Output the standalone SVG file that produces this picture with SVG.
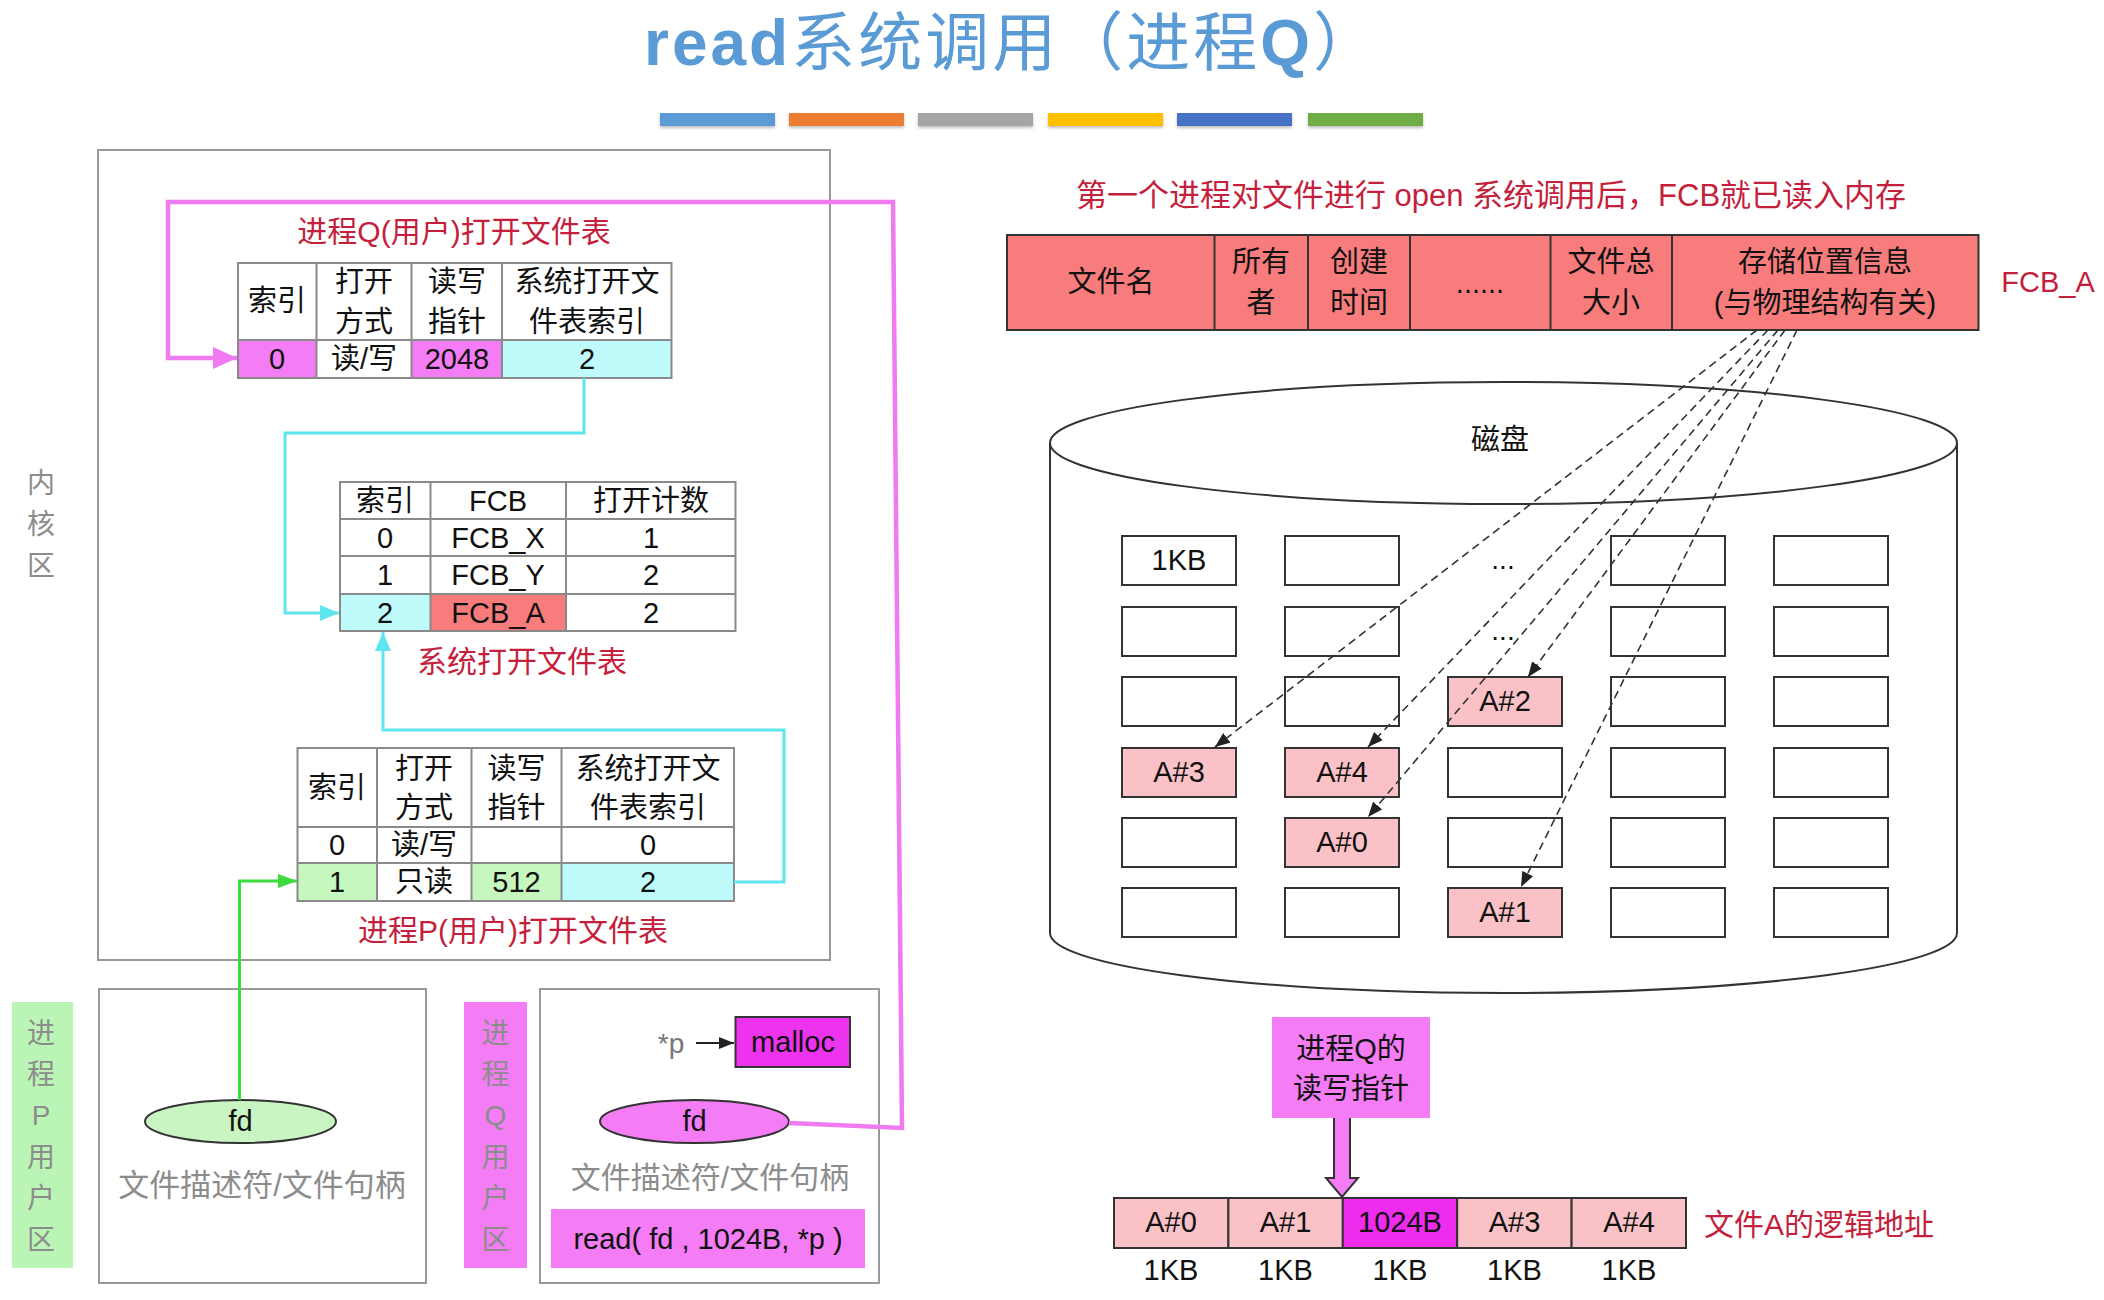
<svg xmlns="http://www.w3.org/2000/svg" width="2104" height="1300" viewBox="0 0 2104 1300">
<defs>
<style>
text{font-family:"Liberation Sans","Noto Sans CJK SC",sans-serif;}
.c{text-anchor:middle;dominant-baseline:central;font-size:29px;fill:#111}
.red{text-anchor:middle;dominant-baseline:central;font-size:29px;fill:#c41f3c}
.gray{text-anchor:middle;dominant-baseline:central;font-size:28px;fill:#8c8c8c}
.tb{fill:none;stroke:#8a8a8a;stroke-width:2}
.box{fill:#fff;stroke:#999;stroke-width:2}
.blk{fill:#fff;stroke:#333;stroke-width:2}
.pk{fill:#fac2c7;stroke:#333;stroke-width:2}
.mag{fill:#f47cf4}
.cy{fill:#bffbfb}
.gr{fill:#c5f7bf}
.dash{fill:none;stroke:#333;stroke-width:1.6;stroke-dasharray:8 5}
.bar{stroke:none}
</style>
<marker id="aPink" markerUnits="userSpaceOnUse" markerWidth="26" markerHeight="24" refX="24" refY="12" orient="auto"><path d="M0,1 L24,12 L0,23 Z" fill="#f07af0"/></marker>
<marker id="aCyan" markerUnits="userSpaceOnUse" markerWidth="20" markerHeight="16" refX="19" refY="8" orient="auto"><path d="M0,0 L19,8 L0,16 Z" fill="#5ee6ee"/></marker>
<marker id="aGreen" markerUnits="userSpaceOnUse" markerWidth="20" markerHeight="16" refX="19" refY="8" orient="auto"><path d="M0,1 L19,8 L0,15 Z" fill="#3ddc3d"/></marker>
<marker id="aBlk" markerUnits="userSpaceOnUse" markerWidth="16" markerHeight="12" refX="15" refY="6" orient="auto"><path d="M0,0 L15,6 L0,12 Z" fill="#222"/></marker>
<filter id="sh" x="-10%" y="-30%" width="120%" height="180%"><feDropShadow dx="0" dy="2" stdDeviation="1.5" flood-color="#000" flood-opacity="0.25"/></filter>
</defs>
<rect width="2104" height="1300" fill="#fff"/>

<g id="title">
<text x="644" y="65" font-size="64" letter-spacing="3" fill="#5b9bd5"><tspan font-weight="bold">read</tspan>系统调用（进程<tspan font-weight="bold">Q</tspan>）</text>
<g filter="url(#sh)">
<rect class="bar" x="660" y="113" width="115" height="13" fill="#5b9bd5"/>
<rect class="bar" x="789" y="113" width="115" height="13" fill="#ed7d31"/>
<rect class="bar" x="918" y="113" width="115" height="13" fill="#a5a5a5"/>
<rect class="bar" x="1048" y="113" width="115" height="13" fill="#ffc000"/>
<rect class="bar" x="1177" y="113" width="115" height="13" fill="#4472c4"/>
<rect class="bar" x="1308" y="113" width="115" height="13" fill="#70ad47"/>
</g>
</g>

<g id="kernel">
<rect class="box" x="98" y="150" width="732" height="810"/>
<text class="gray" x="41" y="483">内</text>
<text class="gray" x="41" y="524">核</text>
<text class="gray" x="41" y="566">区</text>
</g>

<g id="tableQ">
<text class="red" x="454" y="231" style="font-size:30px">进程Q(用户)打开文件表</text>
<rect x="238" y="263" width="433.5" height="115" fill="#fff"/>
<rect class="mag" x="238" y="340" width="78.5" height="38"/>
<rect class="mag" x="411.5" y="340" width="90.5" height="38"/>
<rect class="cy" x="502" y="340" width="169.5" height="38"/>
<path class="tb" d="M238,263 H671.5 V378 H238 Z M238,340 H671.5 M316.5,263 V378 M411.5,263 V378 M502,263 V378"/>
<text class="c" x="277" y="301">索引</text>
<text class="c" x="364" y="282">打开</text><text class="c" x="364" y="322">方式</text>
<text class="c" x="457" y="282">读写</text><text class="c" x="457" y="322">指针</text>
<text class="c" x="587" y="282">系统打开文</text><text class="c" x="587" y="322">件表索引</text>
<text class="c" x="277" y="359">0</text>
<text class="c" x="364" y="359">读/写</text>
<text class="c" x="457" y="359">2048</text>
<text class="c" x="587" y="359">2</text>
</g>

<g id="sysTable">
<rect x="340" y="482" width="395.5" height="149" fill="#fff"/>
<rect class="cy" x="340" y="594" width="90.5" height="37"/>
<rect x="430.5" y="594" width="135.5" height="37" fill="#f87c7c"/>
<path class="tb" d="M340,482 H735.5 V631 H340 Z M340,519 H735.5 M340,556 H735.5 M340,594 H735.5 M430.5,482 V631 M566,482 V631"/>
<text class="c" x="385" y="501">索引</text><text class="c" x="498" y="501">FCB</text><text class="c" x="651" y="501">打开计数</text>
<text class="c" x="385" y="538">0</text><text class="c" x="498" y="538">FCB_X</text><text class="c" x="651" y="538">1</text>
<text class="c" x="385" y="575">1</text><text class="c" x="498" y="575">FCB_Y</text><text class="c" x="651" y="575">2</text>
<text class="c" x="385" y="613">2</text><text class="c" x="498" y="613">FCB_A</text><text class="c" x="651" y="613">2</text>
<text class="red" x="522" y="661" style="font-size:30px">系统打开文件表</text>
</g>

<g id="tableP">
<rect x="297.5" y="748" width="436.5" height="153" fill="#fff"/>
<rect class="gr" x="297.5" y="863" width="79.5" height="38"/>
<rect class="gr" x="471.5" y="863" width="90" height="38"/>
<rect class="cy" x="561.5" y="863" width="172.5" height="38"/>
<path class="tb" d="M297.5,748 H734 V901 H297.5 Z M297.5,827 H734 M297.5,863 H734 M377,748 V901 M471.5,748 V901 M561.5,748 V901"/>
<text class="c" x="337" y="788">索引</text>
<text class="c" x="424" y="769">打开</text><text class="c" x="424" y="808">方式</text>
<text class="c" x="516.5" y="769">读写</text><text class="c" x="516.5" y="808">指针</text>
<text class="c" x="648" y="769">系统打开文</text><text class="c" x="648" y="808">件表索引</text>
<text class="c" x="337" y="845">0</text><text class="c" x="424" y="845">读/写</text><text class="c" x="648" y="845">0</text>
<text class="c" x="337" y="882">1</text><text class="c" x="424" y="882">只读</text><text class="c" x="516.5" y="882">512</text><text class="c" x="648" y="882">2</text>
<text class="red" x="513" y="930" style="font-size:30px">进程P(用户)打开文件表</text>
</g>

<g id="userP">
<rect x="12" y="1002" width="61" height="266" fill="#bbf5b5"/>
<text class="gray" x="41" y="1033">进</text>
<text class="gray" x="41" y="1074">程</text>
<text class="gray" x="41" y="1115">P</text>
<text class="gray" x="41" y="1157">用</text>
<text class="gray" x="41" y="1198">户</text>
<text class="gray" x="41" y="1240">区</text>
<rect class="box" x="99" y="989" width="327" height="294"/>
<ellipse cx="240.5" cy="1121.5" rx="95.5" ry="21.5" fill="#c8f5c2" stroke="#333" stroke-width="2"/>
<text class="c" x="240.5" y="1121">fd</text>
<text class="gray" x="262" y="1185" style="font-size:31px">文件描述符/文件句柄</text>
</g>

<g id="userQ">
<rect x="464" y="1002" width="63" height="266" fill="#f47cf4"/>
<text class="gray" x="495.5" y="1033">进</text>
<text class="gray" x="495.5" y="1074">程</text>
<text class="gray" x="495.5" y="1115">Q</text>
<text class="gray" x="495.5" y="1157">用</text>
<text class="gray" x="495.5" y="1198">户</text>
<text class="gray" x="495.5" y="1240">区</text>
<rect class="box" x="540" y="989" width="339" height="294"/>
<text class="gray" x="671" y="1043" style="fill:#777">*p</text>
<rect x="735.5" y="1017" width="114.5" height="50" fill="#ee33ee" stroke="#333" stroke-width="2"/>
<text class="c" x="793" y="1042">malloc</text>
<ellipse cx="694.5" cy="1121.5" rx="94.5" ry="21.5" fill="#f47cf4" stroke="#333" stroke-width="2"/>
<text class="c" x="694.5" y="1121">fd</text>
<text class="gray" x="710" y="1177" style="font-size:30px">文件描述符/文件句柄</text>
<rect x="551" y="1209" width="314" height="59" fill="#f47cf4"/>
<text class="c" x="708" y="1239">read( fd , 1024B, *p )</text>
</g>

<g id="fcbA">
<text class="red" x="1491" y="195" style="font-size:31px">第一个进程对文件进行 open 系统调用后，FCB就已读入内存</text>
<rect x="1007" y="235" width="971.5" height="95" fill="#f87c7c" stroke="#333" stroke-width="2"/>
<path d="M1214.5,235 V330 M1308,235 V330 M1410,235 V330 M1550.5,235 V330 M1672,235 V330" stroke="#333" stroke-width="2"/>
<text class="c" x="1111" y="282">文件名</text>
<text class="c" x="1261" y="262">所有</text><text class="c" x="1261" y="303">者</text>
<text class="c" x="1359" y="262">创建</text><text class="c" x="1359" y="303">时间</text>
<text x="1480" y="293" text-anchor="middle" font-size="29" fill="#111">......</text>
<text class="c" x="1611" y="262">文件总</text><text class="c" x="1611" y="303">大小</text>
<text class="c" x="1825" y="262">存储位置信息</text><text class="c" x="1825" y="303">(与物理结构有关)</text>
<text class="red" x="2048" y="282">FCB_A</text>
</g>

<g id="disk">
<path d="M1050,443 V933 A453.5,60 0 0 0 1957,933 V443" fill="#fff" stroke="#333" stroke-width="2"/>
<ellipse cx="1503.5" cy="443" rx="453.5" ry="61" fill="#fff" stroke="#333" stroke-width="2"/>
<text class="c" x="1500" y="440">磁盘</text>
<rect class="blk" x="1122" y="536" width="114" height="49"/><text class="c" x="1179" y="560">1KB</text>
<rect class="blk" x="1285" y="536" width="114" height="49"/>
<text x="1503" y="569" text-anchor="middle" font-size="28" fill="#111">...</text>
<rect class="blk" x="1611" y="536" width="114" height="49"/>
<rect class="blk" x="1774" y="536" width="114" height="49"/>
<rect class="blk" x="1122" y="607" width="114" height="49"/>
<rect class="blk" x="1285" y="607" width="114" height="49"/>
<text x="1503" y="640" text-anchor="middle" font-size="28" fill="#111">...</text>
<rect class="blk" x="1611" y="607" width="114" height="49"/>
<rect class="blk" x="1774" y="607" width="114" height="49"/>
<rect class="blk" x="1122" y="677" width="114" height="49"/>
<rect class="blk" x="1285" y="677" width="114" height="49"/>
<rect class="pk" x="1448" y="677" width="114" height="49"/><text class="c" x="1505" y="701">A#2</text>
<rect class="blk" x="1611" y="677" width="114" height="49"/>
<rect class="blk" x="1774" y="677" width="114" height="49"/>
<rect class="pk" x="1122" y="748" width="114" height="49"/><text class="c" x="1179" y="772">A#3</text>
<rect class="pk" x="1285" y="748" width="114" height="49"/><text class="c" x="1342" y="772">A#4</text>
<rect class="blk" x="1448" y="748" width="114" height="49"/>
<rect class="blk" x="1611" y="748" width="114" height="49"/>
<rect class="blk" x="1774" y="748" width="114" height="49"/>
<rect class="blk" x="1122" y="818" width="114" height="49"/>
<rect class="pk" x="1285" y="818" width="114" height="49"/><text class="c" x="1342" y="842">A#0</text>
<rect class="blk" x="1448" y="818" width="114" height="49"/>
<rect class="blk" x="1611" y="818" width="114" height="49"/>
<rect class="blk" x="1774" y="818" width="114" height="49"/>
<rect class="blk" x="1122" y="888" width="114" height="49"/>
<rect class="blk" x="1285" y="888" width="114" height="49"/>
<rect class="pk" x="1448" y="888" width="114" height="49"/><text class="c" x="1505" y="912">A#1</text>
<rect class="blk" x="1611" y="888" width="114" height="49"/>
<rect class="blk" x="1774" y="888" width="114" height="49"/>
</g>

<g id="rwPointer">
<rect x="1272" y="1017" width="158" height="101" fill="#f47cf4"/>
<text class="c" x="1351" y="1049">进程Q的</text>
<text class="c" x="1351" y="1089">读写指针</text>
</g>

<g id="logical">
<rect class="pk" x="1114" y="1198" width="114.4" height="50"/>
<rect class="pk" x="1228.4" y="1198" width="114.4" height="50"/>
<rect x="1342.8" y="1198" width="114.4" height="50" fill="#ee2cee" stroke="#333" stroke-width="2"/>
<rect class="pk" x="1457.2" y="1198" width="114.4" height="50"/>
<rect class="pk" x="1571.6" y="1198" width="114.4" height="50"/>
<text class="c" x="1171" y="1222">A#0</text>
<text class="c" x="1285.5" y="1222">A#1</text>
<text class="c" x="1400" y="1222">1024B</text>
<text class="c" x="1514.5" y="1222">A#3</text>
<text class="c" x="1629" y="1222">A#4</text>
<text class="c" x="1171" y="1270">1KB</text>
<text class="c" x="1285.5" y="1270">1KB</text>
<text class="c" x="1400" y="1270">1KB</text>
<text class="c" x="1514.5" y="1270">1KB</text>
<text class="c" x="1629" y="1270">1KB</text>
<text class="red" x="1819" y="1224" style="font-size:30px">文件A的逻辑地址</text>
</g>

<g id="connectors">
<path d="M789,1123 L902,1128 L893,202 L168,202 L168,358 L237,358" fill="none" stroke="#f07af0" stroke-width="4.5" marker-end="url(#aPink)"/>
<path d="M584,378 V433 H285 V613 H339" fill="none" stroke="#5ee6ee" stroke-width="3" marker-end="url(#aCyan)"/>
<path d="M734,882 H784 V730 H383 V632" fill="none" stroke="#5ee6ee" stroke-width="3" marker-end="url(#aCyan)"/>
<path d="M239.5,1100 V881 H297" fill="none" stroke="#3ddc3d" stroke-width="3" marker-end="url(#aGreen)"/>
<path d="M696,1043 H734" fill="none" stroke="#222" stroke-width="2" marker-end="url(#aBlk)"/>
<path class="dash" d="M1757,330 L1215,747" marker-end="url(#aBlk)"/>
<path class="dash" d="M1768,330 L1368,747" marker-end="url(#aBlk)"/>
<path class="dash" d="M1778,330 L1368,817" marker-end="url(#aBlk)"/>
<path class="dash" d="M1785,330 L1528,677" marker-end="url(#aBlk)"/>
<path class="dash" d="M1797,330 L1521,887" marker-end="url(#aBlk)"/>
<path d="M1334,1118 V1178 H1326 L1342,1197 L1358,1178 H1350 V1118" fill="#f47cf4" stroke="#333" stroke-width="2"/>
</g>
</svg>
